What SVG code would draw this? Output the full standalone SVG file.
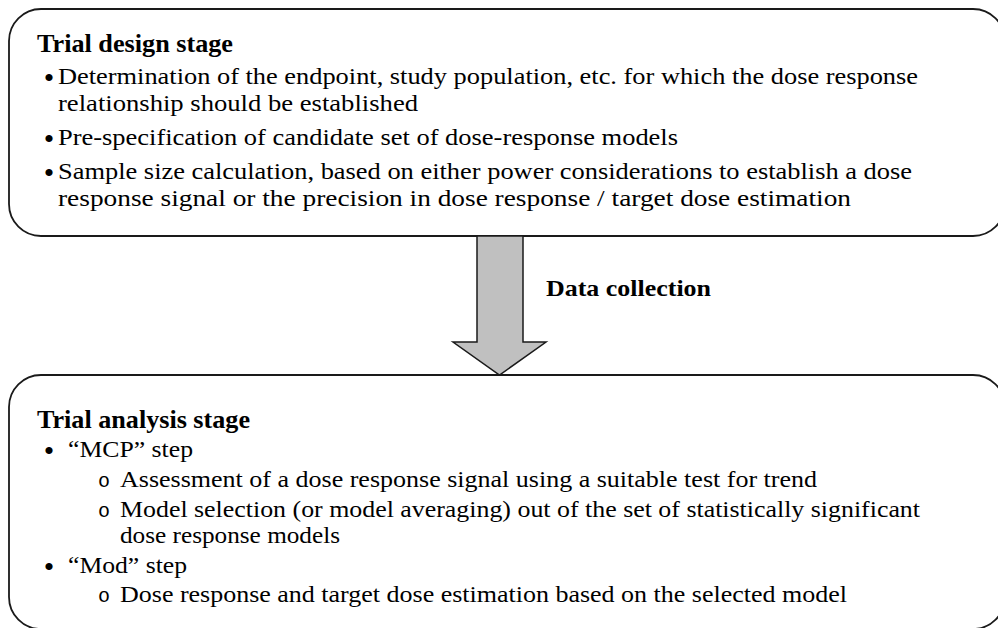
<svg xmlns="http://www.w3.org/2000/svg" width="998" height="628" viewBox="0 0 998 628">
<style>
.box{fill:#fff;stroke:#1a1a1a;stroke-width:1.8}
text{fill:#000}
.t{font-size:24px}
.h{font-size:25px;font-weight:bold}
.b{font-size:30px}
.o{font-size:20px}
.arrow{fill:#c0c0c0;stroke:#1a1a1a;stroke-width:1.5;stroke-linejoin:miter}
</style>
<rect width="998" height="628" fill="#fff"/>
<g id="design-stage" font-family="Liberation Serif, Times New Roman, serif">
<rect class="box" x="9" y="9" width="996" height="227" rx="32" ry="32"/>
<text class="h" x="37" y="52" textLength="196" lengthAdjust="spacingAndGlyphs">Trial design stage</text>
<text class="b" x="49" y="88" text-anchor="middle">•</text>
<text class="t" x="58" y="84" textLength="860" lengthAdjust="spacingAndGlyphs">Determination of the endpoint, study population, etc. for which the dose response</text>
<text class="t" x="58" y="111" textLength="360" lengthAdjust="spacingAndGlyphs">relationship should be established</text>
<text class="b" x="49" y="149" text-anchor="middle">•</text>
<text class="t" x="58" y="145" textLength="620" lengthAdjust="spacingAndGlyphs">Pre-specification of candidate set of dose-response models</text>
<text class="b" x="49" y="183" text-anchor="middle">•</text>
<text class="t" x="58" y="179" textLength="854" lengthAdjust="spacingAndGlyphs">Sample size calculation, based on either power considerations to establish a dose</text>
<text class="t" x="58" y="206" textLength="793" lengthAdjust="spacingAndGlyphs">response signal or the precision in dose response / target dose estimation</text>
</g>
<g id="connectors" font-family="Liberation Serif, Times New Roman, serif">
<polygon class="arrow" points="477,236 523,236 523,342 546,342 499.5,375 453,342 477,342"/>
<text class="h" x="546" y="296" style="font-size:24px" textLength="165" lengthAdjust="spacingAndGlyphs">Data collection</text>
</g>
<g id="analysis-stage" font-family="Liberation Serif, Times New Roman, serif">
<rect class="box" x="9" y="375" width="996" height="254" rx="32" ry="32"/>
<text class="h" x="37" y="428" textLength="213" lengthAdjust="spacingAndGlyphs">Trial analysis stage</text>
<text class="b" x="49" y="461" text-anchor="middle">•</text>
<text class="t" x="68" y="457" textLength="125" lengthAdjust="spacingAndGlyphs">“MCP” step</text>
<text class="o" x="98" y="487" font-family="Liberation Mono, Courier New, monospace">o</text>
<text class="t" x="120" y="487" textLength="697" lengthAdjust="spacingAndGlyphs">Assessment of a dose response signal using a suitable test for trend</text>
<text class="o" x="98" y="517" font-family="Liberation Mono, Courier New, monospace">o</text>
<text class="t" x="120" y="517" textLength="800" lengthAdjust="spacingAndGlyphs">Model selection (or model averaging) out of the set of statistically significant</text>
<text class="t" x="120" y="543" textLength="220" lengthAdjust="spacingAndGlyphs">dose response models</text>
<text class="b" x="49" y="577" text-anchor="middle">•</text>
<text class="t" x="68" y="573" textLength="119" lengthAdjust="spacingAndGlyphs">“Mod” step</text>
<text class="o" x="98" y="602" font-family="Liberation Mono, Courier New, monospace">o</text>
<text class="t" x="120" y="602" textLength="727" lengthAdjust="spacingAndGlyphs">Dose response and target dose estimation based on the selected model</text>
</g>
</svg>
